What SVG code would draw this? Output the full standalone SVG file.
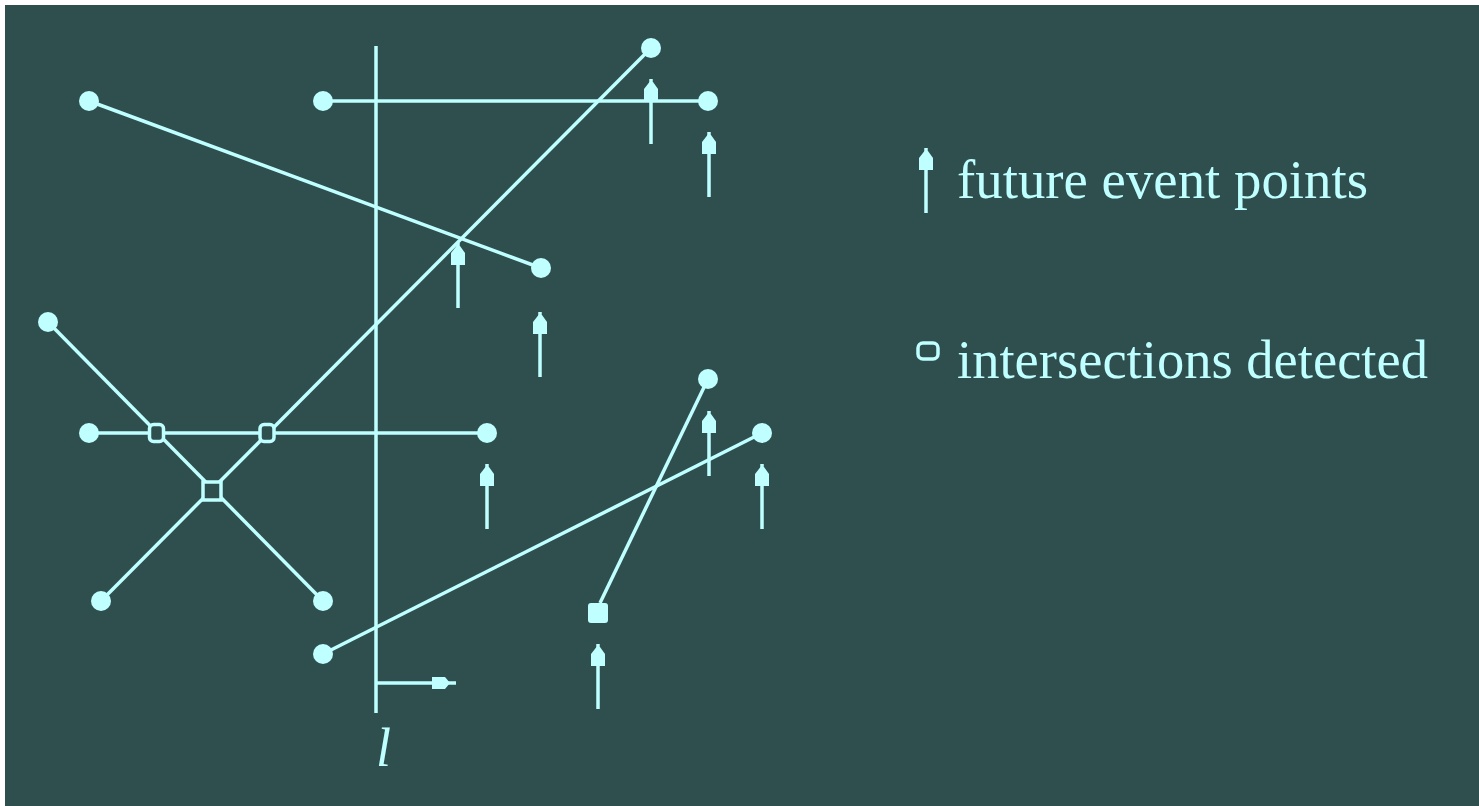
<svg xmlns="http://www.w3.org/2000/svg" xmlns:xlink="http://www.w3.org/1999/xlink" width="1479" height="806" viewBox="0 0 1479 806">
<style>
.ln{stroke:#BFFFFF;stroke-width:3.5;fill:none}
.dot{fill:#BFFFFF}
.ix{fill:#2F4F4F;stroke:#BFFFFF;stroke-width:3.5}
.hd{fill:#BFFFFF}
.lbl{fill:#BFFFFF;font-family:"Liberation Serif","Times New Roman",serif;font-size:54px}
</style>
<defs>
<g id="ev">
<line class="ln" x1="0" y1="0" x2="0" y2="65"/>
<polygon class="hd" points="-1.5,3 2,3 7,10 7,22 -7,22 -7,10"/>
</g>
</defs>
<rect x="0" y="0" width="1479" height="806" fill="#FFFFFF"/>
<rect x="5" y="5" width="1474" height="801" fill="#2F4F4F"/>
<g id="connectors">
<line class="ln" x1="376" y1="46" x2="376" y2="713"/>
<line class="ln" x1="376" y1="683" x2="456" y2="683"/>
<polygon class="hd" points="432,677 445,677 450,683 445,689 432,689"/>
<line class="ln" x1="323" y1="101" x2="708" y2="101"/>
<line class="ln" x1="651" y1="48" x2="101" y2="601"/>
<line class="ln" x1="48" y1="322" x2="323" y2="601"/>
<line class="ln" x1="89" y1="433" x2="487" y2="433"/>
<line class="ln" x1="89" y1="101" x2="541" y2="268"/>
<line class="ln" x1="323" y1="654" x2="762" y2="433"/>
<line class="ln" x1="708" y1="379" x2="600" y2="603"/>
</g>
<g id="intersections">
<rect class="ix" x="149.5" y="424.5" width="14" height="17" rx="4"/>
<rect class="ix" x="260" y="424.5" width="14" height="17" rx="4"/>
<rect class="ix" x="203" y="482" width="18" height="18"/>
</g>
<g id="endpoints">
<circle class="dot" cx="323" cy="101" r="10"/>
<circle class="dot" cx="708" cy="101" r="10"/>
<circle class="dot" cx="651" cy="48" r="10"/>
<circle class="dot" cx="89" cy="101" r="10"/>
<circle class="dot" cx="541" cy="268" r="10"/>
<circle class="dot" cx="48" cy="322" r="10"/>
<circle class="dot" cx="89" cy="433" r="10"/>
<circle class="dot" cx="487" cy="433" r="10"/>
<circle class="dot" cx="101" cy="601" r="10"/>
<circle class="dot" cx="323" cy="601" r="10"/>
<circle class="dot" cx="323" cy="654" r="10"/>
<circle class="dot" cx="708" cy="379" r="10"/>
<circle class="dot" cx="762" cy="433" r="10"/>
<rect class="dot" x="588" y="603" width="20" height="20" rx="3"/>
</g>
<g id="events">
<use xlink:href="#ev" x="651" y="79"/>
<use xlink:href="#ev" x="709" y="132"/>
<use xlink:href="#ev" x="458" y="243"/>
<use xlink:href="#ev" x="540" y="312"/>
<use xlink:href="#ev" x="487" y="464"/>
<use xlink:href="#ev" x="709" y="411"/>
<use xlink:href="#ev" x="762" y="464"/>
<use xlink:href="#ev" x="598" y="644"/>
</g>
<g id="sweep-label">
<text class="lbl" x="376" y="766" font-style="italic">l</text>
</g>
<g id="legend">
<use xlink:href="#ev" x="926" y="148"/>
<text class="lbl" x="957" y="198" textLength="411" lengthAdjust="spacingAndGlyphs">future event points</text>
<rect class="ix" x="918" y="343" width="20" height="16" rx="5"/>
<text class="lbl" x="957" y="378" textLength="471" lengthAdjust="spacingAndGlyphs">intersections detected</text>
</g>
</svg>
